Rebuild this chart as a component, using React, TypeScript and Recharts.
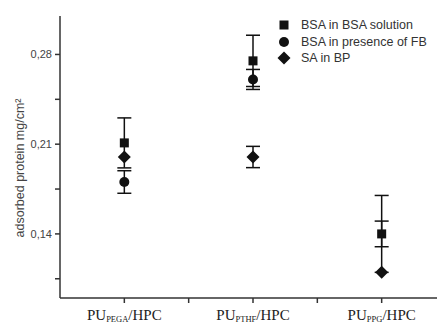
import React from 'react';
import { ScatterChart, Scatter, XAxis, YAxis, ErrorBar } from 'recharts';

// categories along the x axis (subscript part of each polymer name)
const categories = ['PEGA', 'PTHF', 'PPG'];

// adsorbed protein, mg/cm2
const bsaSolution = [
  { x: 1, y: 0.211, err: 0.0195, err2: null },
  { x: 2, y: 0.275, err: 0.02, err2: null },
  { x: 3, y: 0.14, err: 0.03, err2: 0.01 },
];
const bsaWithFb = [
  { x: 1, y: 0.1805, err: 0.0088 },
  { x: 2, y: 0.2605, err: 0.0078 },
];
const saInBp = [
  { x: 1, y: 0.2 },
  { x: 2, y: 0.2, err: 0.0083 },
  { x: 3, y: 0.11 },
];

const yTicks = [0.105, 0.14, 0.175, 0.21, 0.245, 0.28];
const yLabelled = [0.14, 0.21, 0.28];
const xTicks = [1, 1.5, 2, 2.5, 3];

const legendItems = [
  { name: 'BSA in BSA solution', shape: 'square' },
  { name: 'BSA in presence of FB', shape: 'circle' },
  { name: 'SA in BP', shape: 'diamond' },
];

const INK = '#111';
const AXIS = '#333';
const SANS = "'Liberation Sans', Arial, sans-serif";

function Marker({ shape, cx, cy }: { shape: string; cx: number; cy: number }) {
  if (shape === 'square') return <rect x={cx - 4.5} y={cy - 4.5} width={9} height={9} fill={INK} />;
  if (shape === 'circle') return <circle cx={cx} cy={cy} r={5} fill={INK} />;
  return <polygon points={`${cx},${cy - 6.5} ${cx + 6.5},${cy} ${cx},${cy + 6.5} ${cx - 6.5},${cy}`} fill={INK} />;
}

const shapeOf = (shape: string) => (p: any) => <Marker shape={shape} cx={p.cx} cy={p.cy} />;

function XTick(props: any) {
  const { x, y, payload } = props;
  const v = payload.value;
  if (v % 1 !== 0) return null;
  return (
    <text x={x} y={y + 15} textAnchor="middle" fontFamily="'Liberation Serif', serif" fontSize={15} fill="#222">
      <tspan>PU</tspan>
      <tspan fontSize={8.5} dy={2}>{categories[v - 1]}</tspan>
      <tspan dy={-2}>/HPC</tspan>
    </text>
  );
}

function LegendBox() {
  return (
    <div style={{ position: 'absolute', left: 275, top: 17, fontFamily: SANS, fontSize: 12.5, color: '#333' }}>
      {legendItems.map((it) => (
        <div key={it.name} style={{ display: 'flex', alignItems: 'center', height: 16.5, whiteSpace: 'nowrap' }}>
          <svg width={18} height={16} style={{ marginRight: 8 }}>
            <Marker shape={it.shape} cx={9} cy={8} />
          </svg>
          <span>{it.name}</span>
        </div>
      ))}
    </div>
  );
}

export default function App() {
  return (
    <div style={{ position: 'fixed', left: 0, top: 0, width: 437, height: 325, overflow: 'hidden', background: '#fff' }}>
      <ScatterChart width={446} height={325} margin={{ top: 16, right: 0, bottom: 0, left: 0 }}>
        <XAxis
          type="number"
          dataKey="x"
          domain={[0.5, 3.5]}
          ticks={xTicks}
          tick={<XTick />}
          height={27}
          tickSize={5}
          stroke={AXIS}
          strokeWidth={1.5}
        />
        <YAxis
          type="number"
          dataKey="y"
          domain={[0.09, 0.31]}
          ticks={yTicks}
          width={60}
          tickSize={5}
          tickMargin={3}
          stroke={AXIS}
          strokeWidth={1.5}
          tick={{ fontSize: 11, fill: '#444', fontFamily: SANS }}
          tickFormatter={(v: number) => (yLabelled.some((t) => Math.abs(t - v) < 1e-6) ? v.toFixed(2).replace('.', ',') : '')}
          label={() => (
            <text x={24} y={168} transform="rotate(-90, 24, 168)" textAnchor="middle" fontSize={12.5} fill="#444" fontFamily={SANS}>
              adsorbed protein mg/cm²
            </text>
          )}
        />
        <Scatter name="BSA in BSA solution" data={bsaSolution} shape={shapeOf('square')} isAnimationActive={false}>
          <ErrorBar dataKey="err" direction="y" width={7} stroke={INK} strokeWidth={1.5} />
          <ErrorBar dataKey="err2" direction="y" width={7} stroke={INK} strokeWidth={1.5} />
        </Scatter>
        <Scatter name="BSA in presence of FB" data={bsaWithFb} shape={shapeOf('circle')} isAnimationActive={false}>
          <ErrorBar dataKey="err" direction="y" width={7} stroke={INK} strokeWidth={1.5} />
        </Scatter>
        <Scatter name="SA in BP" data={saInBp} shape={shapeOf('diamond')} isAnimationActive={false}>
          <ErrorBar dataKey="err" direction="y" width={7} stroke={INK} strokeWidth={1.5} />
        </Scatter>
      </ScatterChart>
      <LegendBox />
    </div>
  );
}
